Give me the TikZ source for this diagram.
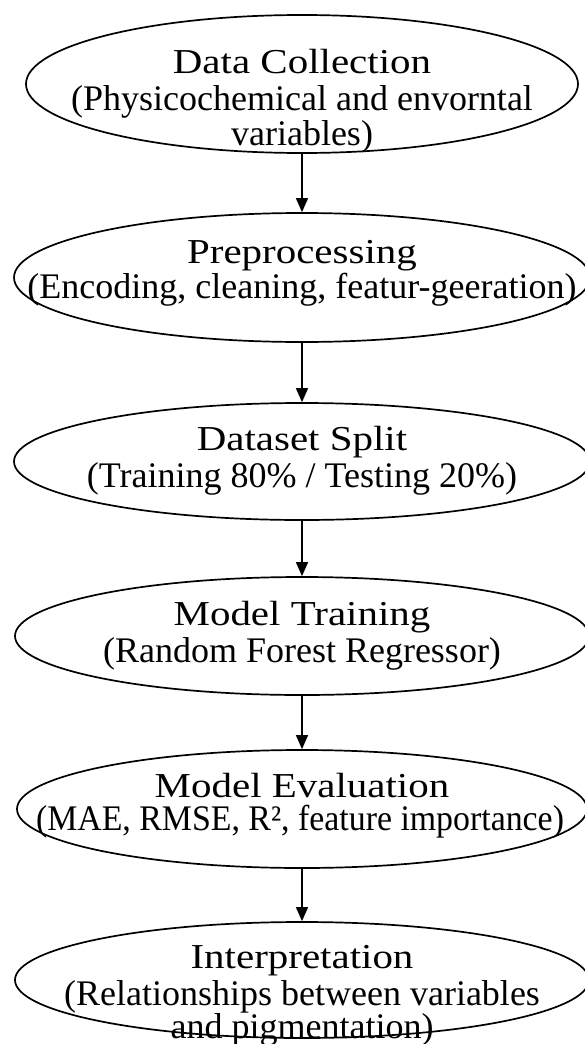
\documentclass[tikz,border=0pt]{standalone}
\usepackage{fontspec}
\usepackage{graphicx}
\setmainfont{Liberation Serif}
\usetikzlibrary{shapes.geometric,arrows.meta}

\tikzset{
  stage/.style={draw=black, line width=1.7pt, ellipse, inner sep=0pt},
  headline/.style={anchor=base, inner sep=0pt,
    font=\fontsize{35}{40}\selectfont},
  subline/.style={anchor=base, inner sep=0pt,
    font=\fontsize{36}{42}\selectfont},
  flow/.style={line width=1.4pt, -{Triangle[length=14pt,width=12pt]}}
}
\newcommand{\wide}[1]{\scalebox{1.17}[1]{#1}}

\begin{document}
\begin{tikzpicture}[x=1pt,y=-1pt]
  \useasboundingbox (0,0) rectangle (584,1044);

  % pipeline stages
  \node[stage, minimum width=552pt, minimum height=138pt] (e1) at (302,84) {};
  \node[stage, minimum width=576pt, minimum height=129pt] (e2) at (302,277.5) {};
  \node[stage, minimum width=576pt, minimum height=117pt] (e3) at (302,461.5) {};
  \node[stage, minimum width=574pt, minimum height=118pt] (e4) at (302,636) {};
  \node[stage, minimum width=570pt, minimum height=118pt] (e5) at (302,809) {};
  \node[stage, minimum width=574pt, minimum height=116pt] (e6) at (302,980) {};

  % stage labels
  \node[headline] (t1) at (302,73) {\wide{Data Collection}};
  \node[subline] (s1a) at (302,110) {(Physicochemical and envorntal};
  \node[subline] (s1b) at (302,145) {variables)};

  \node[headline] (t2) at (302,263) {\wide{Preprocessing}};
  \node[subline] (s2) at (302,298) {(Encoding, cleaning, featur-geeration)};

  \node[headline] (t3) at (302,450) {\wide{Dataset Split}};
  \node[subline] (s3) at (302,487) {(Training 80\% / Testing 20\%)};

  \node[headline] (t4) at (302,625) {\wide{Model Training}};
  \node[subline] (s4) at (302,662) {(Random Forest Regressor)};

  \node[headline] (t5) at (302,797) {\wide{Model Evaluation}};
  \node[subline] (s5) at (300,830) {\scalebox{0.94}[1]{(MAE, RMSE, R², feature importance)}};

  \node[headline] (t6) at (302,968) {\wide{Interpretation}};
  \node[subline] (s6a) at (302,1005) {(Relationships between variables};
  \node[subline] (s6b) at (302,1038) {and pigmentation)};

  % connectors
  \draw[flow] (e1.south) -- (e2.north);
  \draw[flow] (e2.south) -- (e3.north);
  \draw[flow] (e3.south) -- (e4.north);
  \draw[flow] (e4.south) -- (e5.north);
  \draw[flow] (e5.south) -- (e6.north);
\end{tikzpicture}
\end{document}
